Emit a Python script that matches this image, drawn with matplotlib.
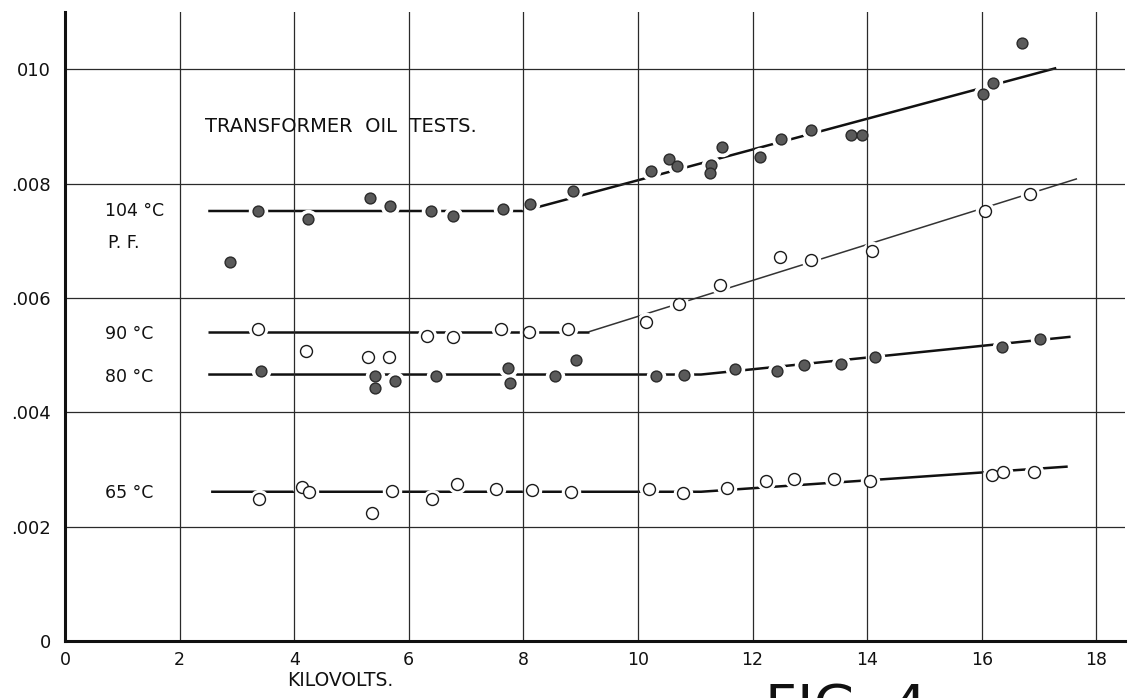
import matplotlib
matplotlib.use("Agg")
import matplotlib.pyplot as plt

# ---- data ----
kv_104 = [2.88, 3.37, 4.24, 5.32, 5.67, 6.39, 6.77, 7.64, 8.12, 8.87, 10.23, 10.54,
          10.68, 11.27, 11.25, 11.47, 12.13, 12.50, 13.02, 13.72, 13.91, 16.02, 16.20, 16.70]
pf_104 = [0.00663, 0.00752, 0.00738, 0.00775, 0.00761, 0.00752, 0.00743, 0.00756, 0.00764,
          0.00787, 0.00822, 0.00843, 0.00831, 0.00832, 0.00818, 0.00864, 0.00846, 0.00878,
          0.00894, 0.00885, 0.00885, 0.00956, 0.00976, 0.01045]

kv_90 = [3.37, 4.21, 5.29, 5.65, 6.32, 6.77, 7.61, 8.10, 8.78, 10.14, 10.72, 11.43,
         12.48, 13.02, 14.08, 16.06, 16.84]
pf_90 = [0.00546, 0.00508, 0.00496, 0.00497, 0.00534, 0.00531, 0.00545, 0.00541, 0.00545,
         0.00558, 0.00590, 0.00623, 0.00672, 0.00667, 0.00682, 0.00752, 0.00782]

kv_80 = [3.42, 5.41, 5.41, 5.76, 6.47, 7.73, 7.77, 8.55, 8.92, 10.31, 10.80, 11.69,
         12.43, 12.90, 13.54, 14.14, 16.35, 17.02]
pf_80 = [0.00473, 0.00463, 0.00443, 0.00454, 0.00463, 0.00478, 0.00451, 0.00464, 0.00492,
         0.00464, 0.00466, 0.00475, 0.00473, 0.00482, 0.00485, 0.00497, 0.00515, 0.00529]

kv_65 = [3.39, 4.13, 4.25, 5.35, 5.71, 6.40, 6.84, 7.52, 8.15, 8.83, 10.19, 10.79,
         11.55, 12.23, 12.72, 13.42, 14.05, 16.18, 16.37, 16.91]
pf_65 = [0.00248, 0.00269, 0.00260, 0.00224, 0.00262, 0.00249, 0.00275, 0.00265, 0.00264,
         0.00261, 0.00265, 0.00259, 0.00267, 0.00279, 0.00283, 0.00284, 0.00279, 0.00290,
         0.00295, 0.00295]

# fitted (hand-drawn) lines: break points
fit_104_x = [2.5, 8.0, 17.3]
fit_104_y = [0.00752, 0.00752, 0.01002]
fit_90_x = [2.5, 9.15, 17.65]
fit_90_y = [0.00541, 0.00541, 0.00808]
fit_80_x = [2.5, 11.1, 17.55]
fit_80_y = [0.00466, 0.00466, 0.00532]
fit_65_x = [2.55, 11.1, 17.5]
fit_65_y = [0.00261, 0.00261, 0.00305]

x_ticks = [0, 2, 4, 6, 8, 10, 12, 14, 16, 18]
x_tick_labels = ["0", "2", "4", "6", "8", "10", "12", "14", "16", "18"]
y_ticks = [0, 0.002, 0.004, 0.006, 0.008, 0.010]
y_tick_labels = ["0", ".002", ".004", ".006", ".008", "010"]

series_labels = ["104 °C", "90 °C", "80 °C", "65 °C"]
label_y = [0.00752, 0.00537, 0.00462, 0.00258]

# ---- figure ----
fig = plt.figure(figsize=(11.28, 6.98), dpi=100)
ax = fig.add_axes([65 / 1128, 57 / 698, 1060 / 1128, 629 / 698])
ax.set_xlim(0, 18.5)
ax.set_ylim(0, 0.011)

ax.set_axisbelow(False)
ax.grid(True, color="#2a2a2a", linewidth=0.9)
for s in ("top", "right"):
    ax.spines[s].set_visible(False)
for s in ("left", "bottom"):
    ax.spines[s].set_linewidth(2.2)
    ax.spines[s].set_color("#111111")
    ax.spines[s].set_zorder(5)

ax.set_xticks(x_ticks)
ax.set_xticklabels(x_tick_labels, fontsize=12.5)
ax.set_yticks(y_ticks)
ax.set_yticklabels(y_tick_labels, fontsize=13)
ax.tick_params(axis="both", length=0, colors="#111111")
ax.tick_params(axis="x", pad=7)
ax.tick_params(axis="y", pad=10)

# fit lines
line_kw = dict(color="#111111", linewidth=1.8, zorder=2, solid_capstyle="butt")
ax.plot(fit_104_x, fit_104_y, **line_kw)
ax.plot(fit_90_x[:2], fit_90_y[:2], **line_kw)
ax.plot(fit_90_x[1:], fit_90_y[1:], color="#333333", linewidth=1.1, zorder=2)
ax.plot(fit_80_x, fit_80_y, **line_kw)
ax.plot(fit_65_x, fit_65_y, **line_kw)

# white halos that break the lines around points
for xs, ys in ((kv_104, pf_104), (kv_90, pf_90), (kv_80, pf_80), (kv_65, pf_65)):
    ax.plot(xs, ys, linestyle="none", marker="o", markersize=13,
            markerfacecolor="white", markeredgecolor="white", zorder=2.2)

# markers
filled_kw = dict(linestyle="none", marker="o", markersize=7.8,
                 markerfacecolor="#5a5a5a", markeredgecolor="#2a2a2a",
                 markeredgewidth=1.0, zorder=4)
open_kw = dict(linestyle="none", marker="o", markersize=8.6,
               markerfacecolor="white", markeredgecolor="#1a1a1a",
               markeredgewidth=1.0, zorder=4)
ax.plot(kv_104, pf_104, **filled_kw)
ax.plot(kv_90, pf_90, **open_kw)
ax.plot(kv_80, pf_80, **filled_kw)
ax.plot(kv_65, pf_65, **open_kw)

# labels
for lab, yv in zip(series_labels, label_y):
    ax.text(0.70, yv, lab, fontsize=12.5, ha="left", va="center", color="#111111")
ax.text(0.75, 0.00696, "P. F.", fontsize=12.5, ha="left", va="center", color="#111111")
ax.text(2.44, 0.00899, "TRANSFORMER  OIL  TESTS.", fontsize=14, ha="left",
        va="center", color="#111111")

ax.set_xlabel("KILOVOLTS.", fontsize=13.5, color="#111111", x=0.26, labelpad=2)

fig.text(765 / 1128, 1 - 682 / 698, "FIG. 4", fontsize=40, ha="left", va="top",
         color="#111111")

fig.savefig("out.png", dpi=100)
